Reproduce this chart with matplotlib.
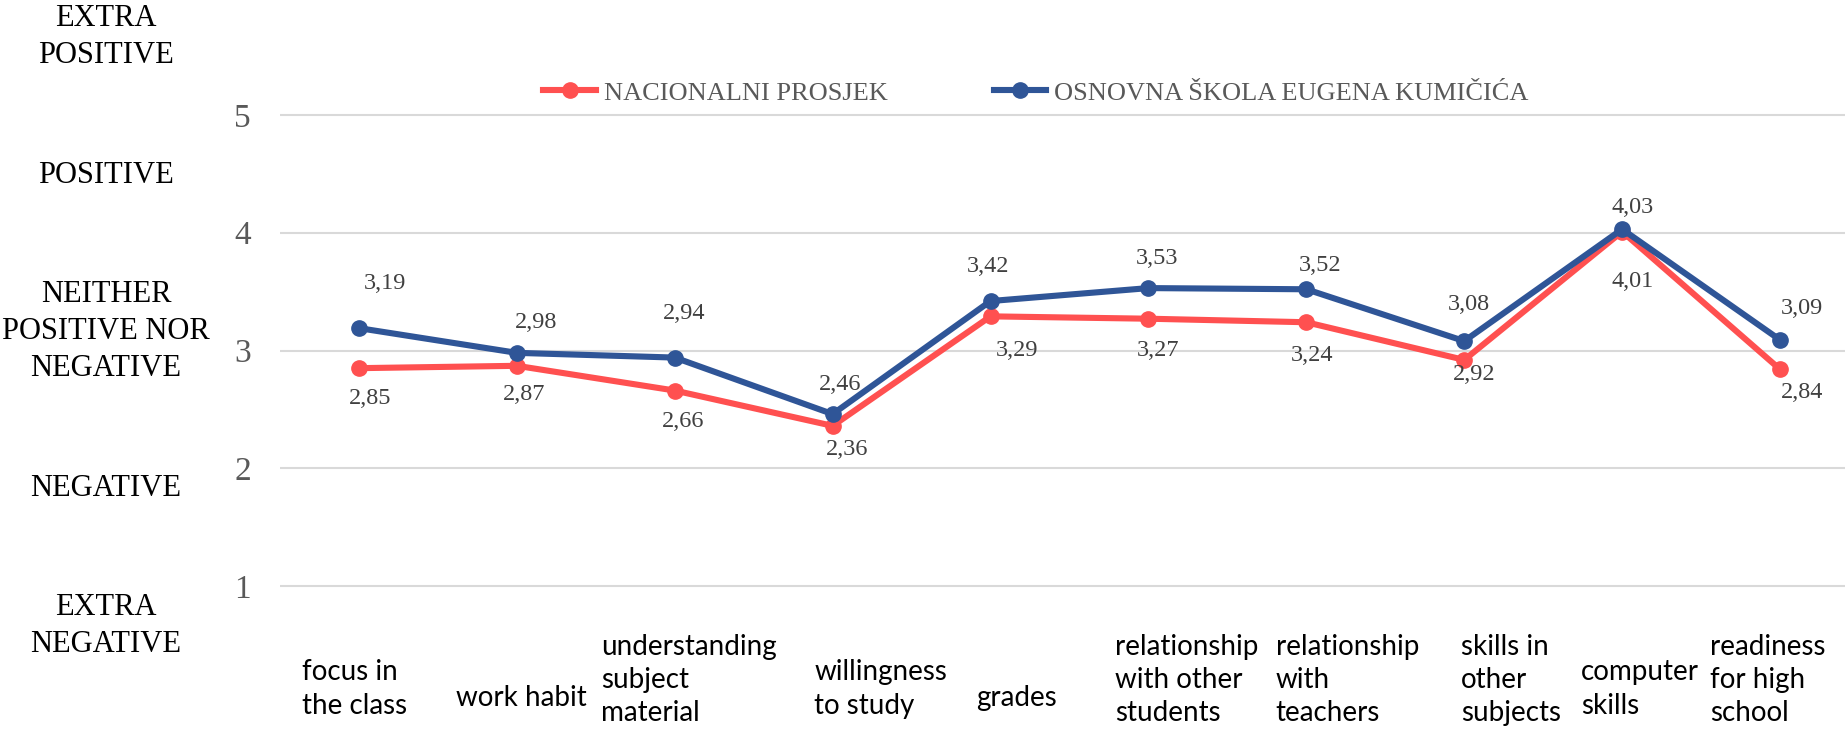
import matplotlib
matplotlib.use("Agg")
import matplotlib.pyplot as plt
import matplotlib.transforms as mtransforms

categories = ["focus in\nthe class", "work habit", "understanding\nsubject\nmaterial",
              "willingness\nto study", "grades", "relationship\nwith other\nstudents",
              "relationship\nwith\nteachers", "skills in\nother\nsubjects",
              "computer\nskills", "readiness\nfor high\nschool"]
nacionalni = [2.85, 2.87, 2.66, 2.36, 3.29, 3.27, 3.24, 2.92, 4.01, 2.84]
skola = [3.19, 2.98, 2.94, 2.46, 3.42, 3.53, 3.52, 3.08, 4.03, 3.09]
series_names = ["NACIONALNI PROSJEK", "OSNOVNA ŠKOLA EUGENA KUMIČIĆA"]
yticks = [1, 2, 3, 4, 5]
scale_labels = ["EXTRA\nPOSITIVE", "POSITIVE", "NEITHER\nPOSITIVE NOR\nNEGATIVE",
                "NEGATIVE", "EXTRA\nNEGATIVE"]
scale_pos = [5.66, 4.49, 3.16, 1.83, 0.66]

# label offsets in pixels (dx, dy)
skola_off = [(26, 45), (19, 30), (9, 44), (7, 30), (-2, 35), (9, 30), (14, 24), (5, 37), (10, 22), (22, 31)]
nac_off = [(11, -30), (7, -29), (8, -31), (14, -24), (27, -34), (10, -32), (6, -33), (10, -15), (10, -50), (22, -23)]
cat_dx = [-4, 5, 14, 48, 26, 38, 41, 47, 18, -12]

RED = "#FF5050"
BLUE = "#2F5597"
SERIF = "Liberation Serif"

W, H = 1845, 734
fig = plt.figure(figsize=(W / 100, H / 100), dpi=100)
ylo, yhi = 0.95, 5.05
ppu = 117.75
step = 157.9
bottom_px = 586 + (1 - ylo) * ppu
top_px = 115 - (yhi - 5) * ppu
ax = fig.add_axes([280 / W, 1 - bottom_px / H, 1 - 280 / W, (bottom_px - top_px) / H])

x = list(range(len(categories)))
ax.plot(x, nacionalni, color=RED, lw=4.4, marker="o", ms=11, label=series_names[0],
        solid_joinstyle="round", zorder=3)
ax.plot(x, skola, color=BLUE, lw=4.4, marker="o", ms=11, label=series_names[1],
        solid_joinstyle="round", zorder=4)

for i in x:
    ax.annotate(f"{skola[i]:.2f}".replace(".", ","), (i, skola[i]), xytext=skola_off[i],
                textcoords="offset pixels", ha="center", va="center",
                fontsize=17.5, family=SERIF, color="#404040", annotation_clip=False)
    ax.annotate(f"{nacionalni[i]:.2f}".replace(".", ","), (i, nacionalni[i]), xytext=nac_off[i],
                textcoords="offset pixels", ha="center", va="center",
                fontsize=17.5, family=SERIF, color="#404040", annotation_clip=False)

ax.set_xlim(-0.5, -0.5 + (W - 280) / step)
ax.set_ylim(ylo, yhi)
ax.set_yticks(yticks)
ax.set_yticklabels([str(t) for t in yticks], family=SERIF, fontsize=24, color="#595959")
ax.tick_params(axis="y", length=0, pad=21)
ax.set_xticks([])

# category labels under the plot
xtrans = mtransforms.blended_transform_factory(ax.transData, fig.transFigure)
for i, lab in enumerate(categories):
    n = lab.count("\n") + 1
    yc = 698 - 9 * (n - 1)
    ax.text(i + cat_dx[i] / step, 1 - yc / H, lab, transform=xtrans, ha="center", va="center",
            multialignment="left", family="Lato", fontsize=20, color="black",
            linespacing=1.35, clip_on=False)

ax.grid(axis="y", color="#D9D9D9", lw=1.5)
ax.set_axisbelow(True)
for s in ax.spines.values():
    s.set_visible(False)

trans = mtransforms.blended_transform_factory(fig.transFigure, ax.transData)
for lab, yp in zip(scale_labels, scale_pos):
    ax.text(106 / W, yp, lab, transform=trans, ha="center", va="center",
            multialignment="center", fontsize=22, family=SERIF, color="black",
            linespacing=1.35, clip_on=False)

leg = fig.legend(loc="center", bbox_to_anchor=(1036 / W, 1 - 93 / H), ncol=2, frameon=False,
                 handlelength=2.0, handletextpad=0.3, columnspacing=4.0,
                 prop={"family": SERIF, "size": 19})
for t in leg.get_texts():
    t.set_color("#595959")

fig.savefig("out.png", dpi=100)
